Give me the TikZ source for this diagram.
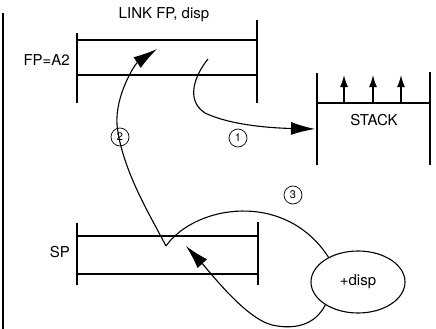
\documentclass[tikz,border=0pt]{standalone}
\usepackage{fontspec}
\setmainfont{TeX Gyre Heros}
\usetikzlibrary{arrows.meta,shapes.geometric}
\begin{document}
\begin{tikzpicture}[x=1pt, y=-1pt, >={Latex[length=24pt,width=13pt]},
    bar/.style={line width=2.2pt},
    wire/.style={line width=1.1pt},
    num/.style={circle, draw, line width=0.7pt, inner sep=0pt, minimum size=18pt, font=\fontsize{11}{11}\selectfont},
    lbl/.style={font=\fontsize{15}{17}\selectfont, inner sep=1pt}]
    \useasboundingbox (0,0) rectangle (436,329);
    % left margin rule
    \draw[line width=1.6pt] (3,13) -- (3,329);
    % frame pointer box
    \draw[bar] (77,33) -- (77,103);
    \draw[bar] (257,20) -- (257,103);
    \draw[bar] (77,40) -- (257,40);
    \draw[bar] (77,75) -- (257,75);
    \node[lbl] (title) at (164,15) {LINK FP, disp};
    \node[lbl, anchor=east] (fp) at (71,60) {FP=A2};
    % stack
    \draw[bar] (317,73) -- (317,165);
    \draw[bar] (430,72) -- (430,165);
    \draw[bar] (317,103) -- (430,103);
    \foreach \x in {344,373,401}
        \draw[line width=1.4pt, -{Latex[length=12pt,width=8pt]}] (\x,103) -- (\x,75);
    \node[lbl] (stack) at (374,120) {STACK};
    % stack pointer box
    \draw[bar] (77,223) -- (77,285);
    \draw[bar] (258,222) -- (258,285);
    \draw[bar] (77,236) -- (258,236);
    \draw[bar] (77,274) -- (258,274);
    \node[lbl, anchor=east] (sp) at (71,252) {SP};
    \node[ellipse, draw, line width=1.1pt, minimum width=94pt, minimum height=62pt, lbl] (disp) at (358,282) {+disp};
    % path points
    \coordinate (fpold) at (208,59);
    \coordinate (stacktop) at (315,129);
    \coordinate (fpnew) at (157,49);
    \coordinate (vtx) at (166,246);
    \coordinate (sptip) at (186,246);
    % step 1
    \draw[wire, ->] (fpold) .. controls (195,75) and (185,100) .. (205,113)
        .. controls (230,125) and (270,128) .. (stacktop);
    \node[num] (n1) at (238,138) {1};
    % step 2
    \draw[wire, ->] (vtx) .. controls (150,215) and (122,170) .. (117,125)
        .. controls (115,95) and (135,64) .. (fpnew);
    \node[num] (n2) at (120,137) {2};
    % step 3
    \draw[wire] (vtx) .. controls (195,205) and (285,190) .. (disp.140);
    \draw[wire, ->] (disp.215) .. controls (315,325) and (295,330) .. (272,325)
        .. controls (245,318) and (210,272) .. (sptip);
    \node[num] (n3) at (293,195) {3};
\end{tikzpicture}
\end{document}
